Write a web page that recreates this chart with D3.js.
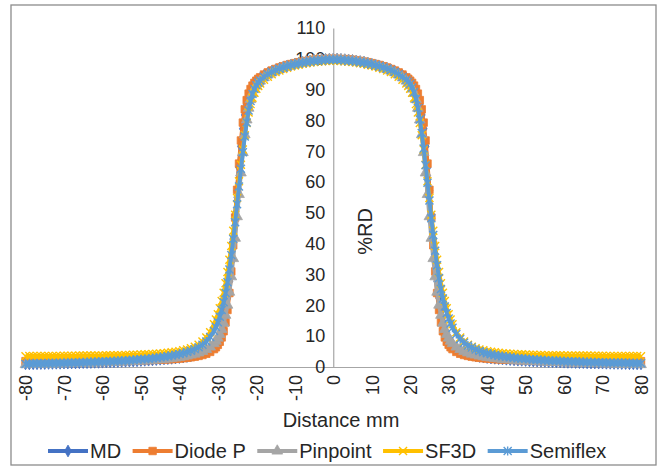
<!DOCTYPE html>
<html>
<head>
<meta charset="utf-8">
<script src="https://cdn.jsdelivr.net/npm/d3@7"></script>
<style>
  html, body { margin: 0; padding: 0; background: #fff; }
  svg text { font-family: "Liberation Sans", Arial, sans-serif; fill: #262626; }
</style>
</head>
<body>
<svg id="chart" width="659" height="468"></svg>
<script>
// distance from the central axis (mm)
const distance = [
  -80,-79,-78,-77,-76,-75,-74,-73,-72,-71,-70,-69,-68,-67,-66,-65,-64,-63,-62,-61,
  -60,-59,-58,-57,-56,-55,-54,-53,-52,-51,-50,-49,-48,-47,-46,-45,-44,-43,-42,-41,
  -40,-39,-38,-37,-36,-35,-34,-33,-32,
  -31,-30.5,-30,-29.5,-29,-28.5,-28,-27.5,-27,-26.5,-26,-25.5,-25,-24.5,-24,-23.5,-23,-22.5,-22,-21.5,-21,-20.5,-20,-19.5,-19,
  -18,-17,-16,-15,-14,-13,-12,-11,-10,-9,-8,-7,-6,-5,-4,-3,-2,-1,0,1,2,3,4,5,6,7,8,9,10,11,12,13,14,15,16,17,18,
  19,19.5,20,20.5,21,21.5,22,22.5,23,23.5,24,24.5,25,25.5,26,26.5,27,27.5,28,28.5,29,29.5,30,30.5,31,
  32,33,34,35,36,37,38,39,40,41,42,43,44,45,46,47,48,49,50,51,52,53,54,55,56,57,58,59,60,
  61,62,63,64,65,66,67,68,69,70,71,72,73,74,75,76,77,78,79,80
];

const md = [
  1.0,1.0,1.05,1.05,1.1,1.1,1.15,1.15,1.2,
  1.2,1.25,1.25,1.3,1.3,1.35,1.4,1.4,1.45,1.5,
  1.5,1.55,1.6,1.65,1.7,1.75,1.8,1.85,1.9,1.95,
  2.0,2.1,2.15,2.2,2.3,2.4,2.5,2.6,2.7,2.8,
  2.9,3.05,3.2,3.4,3.6,3.9,4.2,4.6,5.1,5.8,
  6.8,7.6,8.7,10.1,12.0,14.6,18.0,22.4,27.8,34.2,41.5,49.3,57.2,64.8,71.6,77.3,81.8,85.2,87.7,89.5,90.8,91.8,92.6,93.2,93.7,
  94.6,95.3,95.9,96.4,96.9,97.3,97.7,98.0,98.3,98.6,98.9,99.1,99.3,99.5,99.6,99.7,99.8,99.9,
  99.9,
  99.9,99.8,99.7,99.6,99.5,99.3,99.1,98.9,98.6,98.3,98.0,97.7,97.3,96.9,96.4,95.9,95.3,94.6,
  93.7,93.2,92.6,91.8,90.8,89.5,87.7,85.2,81.8,77.3,71.6,64.8,57.2,49.3,41.5,34.2,27.8,22.4,18.0,14.6,12.0,10.1,8.7,7.6,6.8,
  5.8,5.1,4.6,4.2,3.9,3.6,3.4,3.2,3.05,2.9,
  2.8,2.7,2.6,2.5,2.4,2.3,2.2,2.15,2.1,2.0,
  1.95,1.9,1.85,1.8,1.75,1.7,1.65,1.6,1.55,1.5,
  1.5,1.45,1.4,1.4,1.35,1.3,1.3,1.25,1.25,1.2,
  1.2,1.15,1.15,1.1,1.1,1.05,1.05,1.0,1.0
];

const diodeP = [
  1.9,1.9,1.9,1.9,1.9,1.9,1.9,1.9,1.9,
  1.95,1.95,1.95,1.95,1.95,2.0,2.0,2.0,2.0,2.0,
  2.05,2.05,2.1,2.1,2.1,2.1,2.15,2.15,2.2,2.2,
  2.2,2.25,2.25,2.3,2.3,2.35,2.4,2.45,2.5,2.55,
  2.65,2.75,2.85,3.0,3.15,3.35,3.6,3.9,4.3,4.9,
  5.8,6.4,7.2,8.2,9.6,11.6,14.5,18.5,24.0,31.0,39.5,48.5,57.5,66.0,73.5,79.3,83.6,86.6,88.7,90.2,91.3,92.2,92.9,93.5,94.0,
  94.9,95.6,96.2,96.7,97.2,97.6,98.0,98.3,98.6,98.9,99.1,99.3,99.5,99.7,99.8,99.9,99.9,100.0,
  100.0,
  100.0,99.9,99.9,99.8,99.7,99.5,99.3,99.1,98.9,98.6,98.3,98.0,97.6,97.2,96.7,96.2,95.6,94.9,
  94.0,93.5,92.9,92.2,91.3,90.2,88.7,86.6,83.6,79.3,73.5,66.0,57.5,48.5,39.5,31.0,24.0,18.5,14.5,11.6,9.6,8.2,7.2,6.4,5.8,
  4.9,4.3,3.9,3.6,3.35,3.15,3.0,2.85,2.75,2.65,
  2.55,2.5,2.45,2.4,2.35,2.3,2.3,2.25,2.25,2.2,
  2.2,2.2,2.15,2.15,2.1,2.1,2.1,2.1,2.05,2.05,
  2.0,2.0,2.0,2.0,2.0,1.95,1.95,1.95,1.95,1.95,
  1.9,1.9,1.9,1.9,1.9,1.9,1.9,1.9,1.9
];

const pinpoint = [
  0.8,0.85,0.85,0.9,0.9,0.95,0.95,1.0,1.0,
  1.05,1.1,1.1,1.15,1.2,1.2,1.25,1.3,1.3,1.35,
  1.4,1.4,1.45,1.5,1.55,1.6,1.65,1.7,1.75,1.8,
  1.9,1.95,2.0,2.1,2.2,2.3,2.4,2.5,2.65,2.8,
  2.95,3.15,3.35,3.6,3.9,4.2,4.6,5.1,5.7,6.5,
  7.6,8.4,9.4,10.6,12.2,14.2,16.8,20.1,24.3,29.3,35.2,41.8,48.8,56.0,63.0,69.6,75.4,80.2,84.0,86.8,88.8,90.2,91.3,92.1,92.8,
  93.9,94.8,95.5,96.1,96.6,97.1,97.5,97.9,98.2,98.5,98.8,99.0,99.2,99.4,99.5,99.6,99.7,99.8,
  99.8,
  99.8,99.7,99.6,99.5,99.4,99.2,99.0,98.8,98.5,98.2,97.9,97.5,97.1,96.6,96.1,95.5,94.8,93.9,
  92.8,92.1,91.3,90.2,88.8,86.8,84.0,80.2,75.4,69.6,63.0,56.0,48.8,41.8,35.2,29.3,24.3,20.1,16.8,14.2,12.2,10.6,9.4,8.4,7.6,
  6.5,5.7,5.1,4.6,4.2,3.9,3.6,3.35,3.15,2.95,
  2.8,2.65,2.5,2.4,2.3,2.2,2.1,2.0,1.95,1.9,
  1.8,1.75,1.7,1.65,1.6,1.55,1.5,1.45,1.4,1.4,
  1.35,1.3,1.3,1.25,1.2,1.2,1.15,1.1,1.1,1.05,
  1.0,1.0,0.95,0.95,0.9,0.9,0.85,0.85,0.8
];

const sf3d = [
  3.5,3.55,3.55,3.55,3.55,3.6,3.6,3.6,3.6,
  3.6,3.65,3.65,3.65,3.65,3.7,3.7,3.7,3.7,3.75,
  3.75,3.75,3.8,3.8,3.8,3.85,3.85,3.9,3.9,3.95,
  4.0,4.05,4.1,4.15,4.2,4.3,4.4,4.5,4.65,4.8,
  4.95,5.15,5.4,5.7,6.1,6.6,7.2,8.3,9.6,11.3,
  13.9,15.4,17.1,19.1,21.4,24.1,27.2,30.8,34.8,39.3,44.2,49.4,54.8,60.3,65.6,70.6,75.2,79.2,82.6,85.3,87.4,89.0,90.3,91.2,92.0,
  93.2,94.2,95.0,95.7,96.2,96.7,97.1,97.5,97.8,98.1,98.4,98.6,98.8,99.0,99.1,99.2,99.3,99.4,
  99.4,
  99.4,99.3,99.2,99.1,99.0,98.8,98.6,98.4,98.1,97.8,97.5,97.1,96.7,96.2,95.7,95.0,94.2,93.2,
  92.0,91.2,90.3,89.0,87.4,85.3,82.6,79.2,75.2,70.6,65.6,60.3,54.8,49.4,44.2,39.3,34.8,30.8,27.2,24.1,21.4,19.1,17.1,15.4,13.9,
  11.3,9.6,8.3,7.2,6.6,6.1,5.7,5.4,5.15,4.95,
  4.8,4.65,4.5,4.4,4.3,4.2,4.15,4.1,4.05,4.0,
  3.95,3.9,3.9,3.85,3.85,3.8,3.8,3.8,3.75,3.75,
  3.75,3.7,3.7,3.7,3.7,3.65,3.65,3.65,3.65,3.6,
  3.6,3.6,3.6,3.6,3.55,3.55,3.55,3.55,3.5
];

const semiflex = [
  1.0,1.05,1.1,1.1,1.15,1.15,1.2,1.2,1.25,1.3,
  1.3,1.35,1.4,1.4,1.45,1.5,1.55,1.6,1.65,1.7,
  1.75,1.8,1.85,1.9,2.0,2.05,2.1,2.2,2.3,2.4,
  2.5,2.6,2.7,2.85,3.0,3.15,3.3,3.5,3.7,3.95,
  4.2,4.5,4.9,5.3,5.8,6.4,7.2,8.3,9.7,
  11.7,13.0,14.5,16.3,18.5,21.0,24.0,27.5,31.6,36.3,41.5,47.0,52.8,58.6,64.3,69.7,74.8,79.3,83.2,86.3,88.6,90.2,91.4,92.3,93.0,
  94.1,95.0,95.7,96.3,96.8,97.2,97.6,97.9,98.2,98.5,98.7,98.9,99.1,99.3,99.4,99.5,99.6,99.7,
  99.7,
  99.7,99.6,99.5,99.4,99.3,99.1,98.9,98.7,98.5,98.2,97.9,97.6,97.2,96.8,96.3,95.7,95.0,94.1,
  93.2,92.6,91.8,90.7,89.2,87.0,84.0,80.3,75.9,70.9,65.5,59.8,54.0,48.3,42.8,37.7,33.0,28.9,25.3,22.2,19.6,17.5,15.7,14.1,12.7,
  10.7,9.1,7.9,7.0,6.3,5.7,5.2,4.8,4.45,4.15,
  3.9,3.65,3.45,3.3,3.15,3.0,2.85,2.75,2.65,2.55,
  2.45,2.35,2.25,2.2,2.1,2.05,2.0,1.95,1.9,1.85,
  1.8,1.75,1.7,1.65,1.6,1.55,1.55,1.5,1.45,1.45,
  1.4,1.4,1.35,1.35,1.3,1.3,1.25,1.25,1.2
];

const seriesNames  = ['MD', 'Diode P', 'Pinpoint', 'SF3D', 'Semiflex'];
const seriesValues = [md, diodeP, pinpoint, sf3d, semiflex];
const seriesColors = ['#4472C4', '#ED7D31', '#A5A5A5', '#FFC000', '#5B9BD5'];
const seriesMarks  = ['diamond', 'square', 'triangle', 'x', 'star'];

const xTicks = [-80, -70, -60, -50, -40, -30, -20, -10, 0, 10, 20, 30, 40, 50, 60, 70, 80];
const yTicks = [0, 10, 20, 30, 40, 50, 60, 70, 80, 90, 100, 110];

seriesValues.forEach((v, i) => {
  if (v.length !== distance.length) throw new Error(seriesNames[i] + ' has ' + v.length + ' values, expected ' + distance.length);
});

const svg = d3.select('#chart');

// outer frame
svg.append('rect')
  .attr('x', 11).attr('y', 5).attr('width', 645).attr('height', 460)
  .attr('fill', 'none').attr('stroke', '#8c8c8c').attr('stroke-width', 1.3);

const x = d3.scaleLinear().domain([-80, 80]).range([25.5, 641]);
const y = d3.scaleLinear().domain([0, 110]).range([367, 28]);

// x axis along 0 %
const gx = svg.append('g')
  .attr('transform', `translate(0,${y(0)})`)
  .call(d3.axisBottom(x).tickValues(xTicks).tickSize(0).tickSizeOuter(0).tickFormat(d => String(d)));
gx.select('.domain').attr('stroke', '#a6a6a6').attr('stroke-width', 1.2);
gx.selectAll('text')
  .attr('transform', 'rotate(-90)')
  .attr('text-anchor', 'end')
  .attr('x', -8).attr('y', 0).attr('dy', '0.35em')
  .style('font-size', '18px').style('font-family', '"Liberation Sans", Arial, sans-serif');

// y axis through 0 mm
const gy = svg.append('g')
  .attr('transform', `translate(${x(0)},0)`)
  .call(d3.axisLeft(y).tickValues(yTicks).tickSize(0).tickSizeOuter(0).tickPadding(8));
gy.select('.domain').attr('stroke', '#a6a6a6').attr('stroke-width', 1.2);
gy.selectAll('text')
  .style('font-size', '18px').style('font-family', '"Liberation Sans", Arial, sans-serif');

// axis titles
svg.append('text')
  .attr('x', 341).attr('y', 427)
  .attr('text-anchor', 'middle')
  .style('font-size', '20px')
  .text('Distance mm');

svg.append('text')
  .attr('transform', 'translate(372,231.5) rotate(-90)')
  .attr('text-anchor', 'middle')
  .style('font-size', '20px')
  .text('%RD');

function drawMarker(sel, kind, color) {
  if (kind === 'diamond') {
    sel.append('path').attr('d', d3.symbol(d3.symbolDiamond, 40)()).attr('fill', color).attr('stroke', color).attr('stroke-width', 0.8);
  } else if (kind === 'square') {
    sel.append('path').attr('d', d3.symbol(d3.symbolSquare, 56)()).attr('fill', color).attr('stroke', color).attr('stroke-width', 0.8);
  } else if (kind === 'triangle') {
    sel.append('path').attr('d', d3.symbol(d3.symbolTriangle, 50)()).attr('fill', color).attr('stroke', color).attr('stroke-width', 0.8);
  } else if (kind === 'x') {
    sel.append('path').attr('d', 'M-4,-4L4,4M-4,4L4,-4').attr('fill', 'none').attr('stroke', color).attr('stroke-width', 1.4);
  } else {
    sel.append('path').attr('d', 'M-4,-4L4,4M-4,4L4,-4M0,-4.5L0,4.5').attr('fill', 'none').attr('stroke', color).attr('stroke-width', 1.4);
  }
}

const line = d3.line().x(d => x(d[0])).y(d => y(d[1]));
const plot = svg.append('g');

seriesValues.forEach((vals, i) => {
  const pts = distance.map((d, j) => [d, vals[j]]);
  const g = plot.append('g');
  g.append('path')
    .datum(pts)
    .attr('fill', 'none')
    .attr('stroke', seriesColors[i])
    .attr('stroke-width', 4)
    .attr('stroke-linejoin', 'round')
    .attr('d', line);
  g.selectAll('.mk')
    .data(pts)
    .join('g')
    .attr('class', 'mk')
    .attr('transform', d => `translate(${x(d[0])},${y(d[1])})`)
    .each(function () { drawMarker(d3.select(this), seriesMarks[i], seriesColors[i]); });
});

// legend
const legend = svg.append('g');
let lx = 48;
const ly = 451;
seriesNames.forEach((name, i) => {
  const item = legend.append('g');
  item.append('line')
    .attr('x1', lx).attr('x2', lx + 40).attr('y1', ly).attr('y2', ly)
    .attr('stroke', seriesColors[i]).attr('stroke-width', 4);
  drawMarker(item.append('g').attr('transform', `translate(${lx + 20},${ly})`), seriesMarks[i], seriesColors[i]);
  const t = item.append('text')
    .attr('x', lx + 42).attr('y', ly + 7)
    .style('font-size', '20px')
    .text(name);
  lx += 42 + t.node().getComputedTextLength() + 11.5;
});
</script>
</body>
</html>
